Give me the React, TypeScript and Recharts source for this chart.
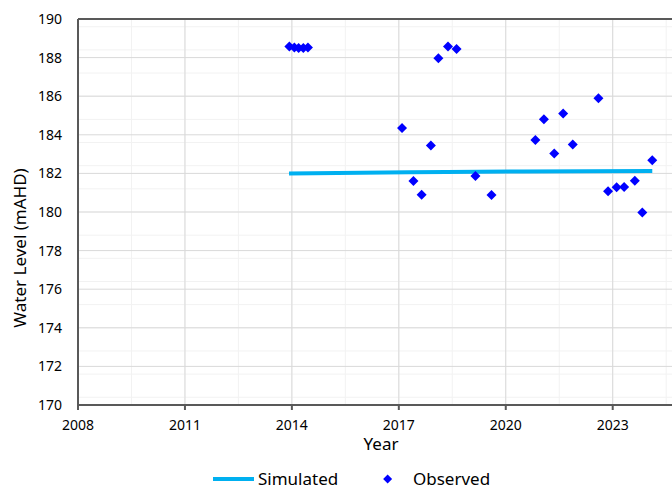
import { ComposedChart, Line, Scatter, XAxis, YAxis, CartesianGrid, ReferenceLine, Legend, Label } from "recharts";

// observed bore levels
const obsYears = [
    2013.93, 2014.07, 2014.19, 2014.32, 2014.45,
    2017.09, 2017.41, 2017.64, 2017.9, 2018.11, 2018.38, 2018.62,
    2019.15, 2019.6, 2020.83, 2021.07, 2021.36, 2021.61, 2021.88,
    2022.6, 2022.87, 2023.11, 2023.32, 2023.62, 2023.83, 2024.11,
];
const obsLevels = [
    188.58, 188.52, 188.5, 188.5, 188.52,
    184.35, 181.6, 180.9, 183.45, 187.97, 188.57, 188.45,
    181.87, 180.88, 183.73, 184.81, 183.03, 185.1, 183.5,
    185.9, 181.08, 181.28, 181.3, 181.62, 179.97, 182.68,
];

// simulated head
const simYears = [2013.92, 2017.3, 2020.5, 2024.11];
const simLevels = [182.0, 182.06, 182.1, 182.13];

const xTicks = [2008, 2011, 2014, 2017, 2020, 2023];
const yTicks = [170, 172, 174, 176, 178, 180, 182, 184, 186, 188, 190];

const xMinor: number[] = [];
for (let v = 2008.75; v < 2025; v += 0.75) xMinor.push(v);
const yMinor: number[] = [];
for (let v = 170.4; v < 190; v += 0.4) yMinor.push(v);

const observed = obsYears.map((year, i) => ({ year, level: obsLevels[i] }));
const simulated = simYears.map((year, i) => ({ year, level: simLevels[i] }));

const FONT = "'Noto Sans', sans-serif";
const AXIS = "#595959";

const Diamond = (props: any) => {
    const { cx, cy } = props;
    const r = 5;
    return <path d={`M${cx},${cy - r}L${cx + r},${cy}L${cx},${cy + r}L${cx - r},${cy}Z`} fill="#0000FF" />;
};

const renderLegend = () => (
    <div style={{ position: "relative", height: 36, fontFamily: FONT, fontSize: 17, color: "#000" }}>
        <svg width={672} height={36} style={{ position: "absolute", left: 0, top: 0 }}>
            <line x1={213} x2={254} y1={24} y2={24} stroke="#00B0F0" strokeWidth={4} />
            <path d="M387.6,19.5L392.1,24L387.6,28.5L383.1,24Z" fill="#0000FF" />
        </svg>
        <span style={{ position: "absolute", left: 258, top: 12, lineHeight: "23px" }}>Simulated</span>
        <span style={{ position: "absolute", left: 413, top: 12, lineHeight: "23px" }}>Observed</span>
    </div>
);

const YTitle = ({ viewBox }: any) => {
    const cy = viewBox.y + viewBox.height / 2 + 36;
    return (
        <text x={19} y={cy} transform={`rotate(-90, 19, ${cy})`} textAnchor="middle" dominantBaseline="central"
            fontFamily={FONT} fontSize={17} fill="#000">
            Water Level (mAHD)
        </text>
    );
};

export default function App() {
    return (
        <div style={{ position: "absolute", left: 0, top: 0, width: 672, height: 491, overflow: "hidden", background: "#fff" }}>
            <ComposedChart width={690} height={491} margin={{ top: 19, right: 6, bottom: 0, left: 0 }}>
                <CartesianGrid stroke="#f2f2f2" strokeWidth={1} horizontalValues={yMinor} verticalValues={xMinor} />
                <CartesianGrid stroke="#d9d9d9" strokeWidth={1} />
                <XAxis
                    type="number"
                    dataKey="year"
                    domain={[2008, 2025]}
                    ticks={xTicks}
                    allowDataOverflow
                    height={50}
                    stroke={AXIS}
                    strokeWidth={2}
                    tickSize={5}
                    tickMargin={10}
                    tick={{ fontSize: 14, fontFamily: FONT, fill: "#000" }}
                >
                    <Label value="Year" position="insideBottom" offset={5} style={{ fontSize: 17, fontFamily: FONT, fill: "#000" }} />
                </XAxis>
                <YAxis
                    type="number"
                    dataKey="level"
                    domain={[170, 190]}
                    ticks={yTicks}
                    allowDataOverflow
                    width={78}
                    stroke={AXIS}
                    strokeWidth={2}
                    tickLine={false}
                    tickSize={0}
                    tickMargin={16}
                    tick={{ fontSize: 14, fontFamily: FONT, fill: "#000" }}
                >
                    <Label content={YTitle} />
                </YAxis>
                <ReferenceLine y={190} stroke={AXIS} strokeWidth={2} />
                <Line
                    data={simulated}
                    type="monotone"
                    dataKey="level"
                    stroke="#00B0F0"
                    strokeWidth={4}
                    dot={false}
                    activeDot={false}
                    legendType="none"
                    isAnimationActive={false}
                />
                <Scatter data={observed} dataKey="level" shape={Diamond} isAnimationActive={false} />
                <Legend verticalAlign="bottom" content={renderLegend} wrapperStyle={{ left: 0, width: 672 }} />
            </ComposedChart>
        </div>
    );
}
